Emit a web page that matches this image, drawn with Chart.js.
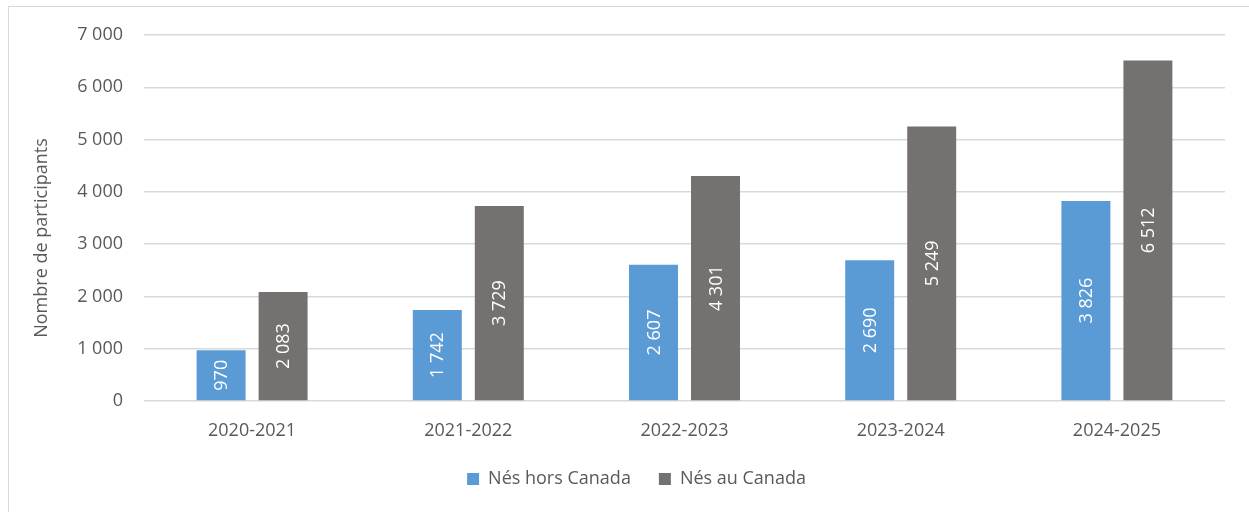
<!DOCTYPE html>
<html>
<head>
<meta charset="utf-8">
<script src="https://cdn.jsdelivr.net/npm/chart.js@4.4.1/dist/chart.umd.min.js"></script>
<style>
  html, body { margin: 0; padding: 0; background: #ffffff; overflow: hidden; }
  #wrap { position: relative; width: 1249px; height: 512px; }
  #frame { position: absolute; left: 8px; top: 6px; width: 1300px; height: 600px;
           border-left: 1.5px solid #d9d9d9; border-top: 1.5px solid #d9d9d9; pointer-events: none; }
  canvas { position: absolute; left: 0; top: 0; }
</style>
</head>
<body>
<div id="wrap">
  <canvas id="c" width="1249" height="512"></canvas>
  <div id="frame"></div>
</div>
<script>
const categories = ["2020-2021", "2021-2022", "2022-2023", "2023-2024", "2024-2025"];
const seriesNames = ["Nés hors Canada", "Nés au Canada"];
const bornOutside = [970, 1742, 2607, 2690, 3826];
const bornCanada = [2083, 3729, 4301, 5249, 6512];
const yTicks = [0, 1000, 2000, 3000, 4000, 5000, 6000, 7000];
const axisTitle = "Nombre de participants";

const FONT = "'Open Sans', 'DejaVu Sans', sans-serif";
const TXT = "#595959";

function fmt(v) {
  return String(Math.round(v)).replace(/\B(?=(\d{3})+(?!\d))/g, " ");
}

const barLabels = {
  id: "barLabels",
  afterDatasetsDraw(chart) {
    const ctx = chart.ctx;
    ctx.save();
    ctx.fillStyle = "#ffffff";
    ctx.font = "18px " + FONT;
    ctx.textAlign = "center";
    ctx.textBaseline = "middle";
    chart.data.datasets.forEach((ds, di) => {
      const meta = chart.getDatasetMeta(di);
      meta.data.forEach((bar, i) => {
        const cy = (bar.y + bar.base) / 2;
        ctx.save();
        ctx.translate(bar.x, cy);
        ctx.rotate(-Math.PI / 2);
        ctx.fillText(fmt(ds.data[i]), 0, 1);
        ctx.restore();
      });
    });
    ctx.restore();
  }
};

const yTitle = {
  id: "yTitle",
  afterLayout(chart) {
    if (chart.legend) { chart.legend.left += 24; chart.legend.right += 24; }
  },
  afterDraw(chart) {
    const ctx = chart.ctx;
    ctx.save();
    ctx.fillStyle = TXT;
    ctx.font = "18px " + FONT;
    ctx.textAlign = "center";
    ctx.textBaseline = "middle";
    ctx.translate(42, 238);
    ctx.rotate(-Math.PI / 2);
    ctx.fillText(axisTitle, 0, 0);
    ctx.restore();
  }
};

new Chart(document.getElementById("c"), {
  type: "bar",
  data: {
    labels: categories,
    datasets: [
      { label: seriesNames[0], data: bornOutside, backgroundColor: "#5B9BD5",
        categoryPercentage: 0.5735, barPercentage: 0.79 },
      { label: seriesNames[1], data: bornCanada, backgroundColor: "#767171",
        categoryPercentage: 0.5735, barPercentage: 0.79 }
    ]
  },
  options: {
    responsive: false,
    animation: false,
    devicePixelRatio: 1,
    layout: { padding: { left: 0, right: 24, top: 35, bottom: 14 } },
    scales: {
      x: {
        grid: { display: false, drawTicks: false },
        border: { display: false },
        ticks: { color: TXT, font: { family: FONT, size: 18 }, padding: 19 },
        afterFit(s) { s.height = 41; }
      },
      y: {
        min: 0, max: 7000,
        afterBuildTicks(s) { s.ticks = yTicks.map(v => ({ value: v })); },
        grid: { color: "#d9d9d9", lineWidth: 1.5, drawTicks: false },
        border: { display: false },
        ticks: { color: TXT, font: { family: FONT, size: 18 }, padding: 21,
                 callback: v => fmt(v) },
        afterFit(s) { s.width = 144; }
      }
    },
    plugins: {
      legend: {
        position: "bottom",
        labels: { color: TXT, font: { family: FONT, size: 18 }, boxWidth: 12, boxHeight: 12, padding: 28 }
      },
      tooltip: { enabled: false }
    }
  },
  plugins: [barLabels, yTitle]
});
</script>
</body>
</html>
